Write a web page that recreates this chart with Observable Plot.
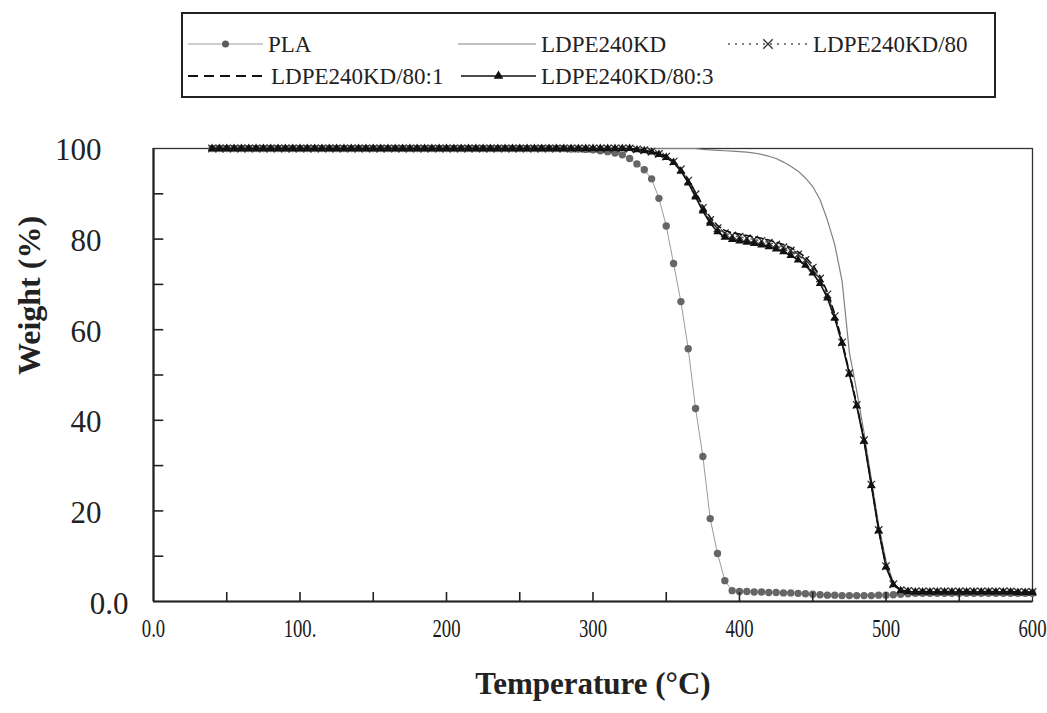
<!DOCTYPE html>
<html><head><meta charset="utf-8">
<script src="https://cdn.jsdelivr.net/npm/d3@7"></script>
<script src="https://cdn.jsdelivr.net/npm/@observablehq/plot@0.6"></script>
<style>
body{margin:0;background:#fff;}
#wrap{position:relative;width:1047px;height:713px;}
#legend{position:absolute;left:181px;top:12px;}
</style></head><body><div id="wrap"></div>
<script>
// Temperature sampling grid (°C)
const temps = [
  40,45,50,55,60,65,70,75,80,85,
  90,95,100,105,110,115,120,125,130,135,
  140,145,150,155,160,165,170,175,180,185,
  190,195,200,205,210,215,220,225,230,235,
  240,245,250,255,260,265,270,275,280,285,
  290,295,300,305,310,315,320,325,330,335,
  340,345,350,355,360,365,370,375,380,385,
  390,395,400,405,410,415,420,425,430,435,
  440,445,450,455,460,465,470,475,480,485,
  490,495,500,505,510,515,520,525,530,535,
  540,545,550,555,560,565,570,575,580,585,
  590,595,600];

const seriesNames = ["PLA","LDPE240KD","LDPE240KD/80","LDPE240KD/80:1","LDPE240KD/80:3"];

const wPLA = [
  100,100,100,100,100,100,100,100,100,100,
  100,100,100,100,100,100,100,100,100,100,
  100,100,100,100,100,100,100,100,100,100,
  100,100,100,100,100,100,100,100,100,100,
  100,100,100,100,100,100,100,100,100,99.9,
  99.9,99.8,99.7,99.5,99.3,99.0,98.6,97.8,96.6,95.3,
  93.3,89.0,82.9,74.6,66.2,55.8,42.6,32.0,18.3,10.6,
  4.6,2.4,2.2,2.2,2.1,2.1,2.0,2.0,1.9,1.9,
  1.8,1.7,1.6,1.5,1.4,1.4,1.3,1.3,1.3,1.3,
  1.3,1.4,1.4,1.5,1.6,1.7,1.8,1.8,1.8,1.8,
  1.8,1.8,1.8,1.8,1.8,1.8,1.8,1.8,1.8,1.8,
  1.8,1.8,1.8];

const wLDPE = [
  100,100,100,100,100,100,100,100,100,100,
  100,100,100,100,100,100,100,100,100,100,
  100,100,100,100,100,100,100,100,100,100,
  100,100,100,100,100,100,100,100,100,100,
  100,100,100,100,100,100,100,100,100,100,
  100,100,100,100,100,100,100,100,100,100,
  100,100,100,100,100,100,100,99.8,99.7,99.6,
  99.5,99.4,99.3,99.2,99.0,98.7,98.3,97.8,97.0,96.1,
  95.0,93.5,91.6,88.7,84.2,78.8,70.8,55.0,46.5,37.3,
  27.0,16.9,9.0,4.2,2.4,2.2,2.1,2.1,2.1,2.1,
  2.1,2.1,2.1,2.1,2.1,2.1,2.1,2.0,2.0,2.0,
  2.0,2.0,2.0];

const wLDPE80 = [
  100,100,100,100,100,100,100,100,100,100,
  100,100,100,100,100,100,100,100,100,100,
  100,100,100,100,100,100,100,100,100,100,
  100,100,100,100,100,100,100,100,100,100,
  100,100,100,100,100,100,100,100,100,100,
  100,100,100,100,100,100,100,100,99.8,99.6,
  99.3,98.8,98.2,97.1,95.4,92.9,89.9,86.9,84.2,82.4,
  81.3,80.8,80.5,80.2,79.9,79.6,79.2,78.8,78.2,77.5,
  76.6,75.4,73.7,71.3,67.8,63.0,57.2,50.4,43.4,35.6,
  25.8,15.8,7.8,3.8,2.5,2.3,2.2,2.2,2.2,2.2,
  2.2,2.2,2.2,2.2,2.2,2.2,2.2,2.2,2.2,2.2,
  2.1,2.1,2.1];

const wLDPE80_1 = [
  100,100,100,100,100,100,100,100,100,100,
  100,100,100,100,100,100,100,100,100,100,
  100,100,100,100,100,100,100,100,100,100,
  100,100,100,100,100,100,100,100,100,100,
  100,100,100,100,100,100,100,100,100,100,
  100,100,100,100,100,100,100,100,99.8,99.6,
  99.3,98.9,98.3,97.3,95.6,93.2,90.3,87.4,84.8,83.0,
  81.9,81.4,81.1,80.8,80.5,80.2,79.8,79.3,78.8,78.1,
  77.2,76.0,74.3,71.8,68.3,63.5,57.5,50.6,43.6,35.8,
  26.0,16.0,8.0,3.9,2.5,2.3,2.2,2.2,2.2,2.2,
  2.2,2.2,2.2,2.2,2.2,2.2,2.2,2.2,2.2,2.2,
  2.1,2.1,2.1];

const wLDPE80_3 = [
  100,100,100,100,100,100,100,100,100,100,
  100,100,100,100,100,100,100,100,100,100,
  100,100,100,100,100,100,100,100,100,100,
  100,100,100,100,100,100,100,100,100,100,
  100,100,100,100,100,100,100,100,100,100,
  100,100,100,100,100,100,100,100,99.7,99.5,
  99.2,98.7,98.0,96.9,95.0,92.4,89.3,86.2,83.5,81.6,
  80.4,79.9,79.6,79.3,79.0,78.7,78.3,77.8,77.2,76.4,
  75.4,74.2,72.5,70.2,67.0,62.5,57.0,50.2,43.2,35.4,
  25.6,15.6,7.6,3.7,2.4,2.2,2.1,2.1,2.1,2.1,
  2.1,2.1,2.1,2.1,2.1,2.1,2.1,2.1,2.1,2.1,
  2.0,2.0,2.0];

const xTickValues = [0,100,200,300,400,500,600];
const xTickLabels = ["0.0","100.","200","300","400","500","600"];
const xTickMarks = [50,100,150,200,250,300,350,400,450,500,550];
const yTickValues = [20,40,60,80,100];
const yTickLabels = ["20","40","60","80","100"];
const yZeroLabel = ["0.0"];
const yTickMarks = [10,20,30,40,50,60,70,80,90];
const xTitle = "Temperature (°C)";
const yTitle = "Weight (%)";

const toRows = (w) => temps.map((t, i) => ({t, w: w[i]}));
const pla = toRows(wPLA), ldpe = toRows(wLDPE), l80 = toRows(wLDPE80),
      l801 = toRows(wLDPE80_1), l803 = toRows(wLDPE80_3);

const serif = "Liberation Serif, Times New Roman, serif";

const chart = Plot.plot({
  width: 1047, height: 713,
  marginTop: 148, marginLeft: 153, marginRight: 15, marginBottom: 112,
  style: {fontFamily: serif, background: "#fff"},
  x: {domain: [0, 600], axis: null},
  y: {domain: [0, 100], axis: null},
  marks: [
    Plot.frame({stroke: "#333", strokeWidth: 1.3}),
    Plot.line(pla, {x: "t", y: "w", stroke: "#9c9c9c", strokeWidth: 1}),
    Plot.dot(pla, {x: "t", y: "w", r: 3.7, fill: "#666"}),
    Plot.line(ldpe, {x: "t", y: "w", stroke: "#808080", strokeWidth: 1.2}),
    Plot.line(l80, {x: "t", y: "w", stroke: "#555", strokeWidth: 1.3, strokeDasharray: "2,3"}),
    Plot.dot(l80, {x: "t", y: "w", symbol: "times", r: 3.5, stroke: "#333", strokeWidth: 1.3}),
    Plot.line(l801, {x: "t", y: "w", stroke: "#111", strokeWidth: 1.6, strokeDasharray: "7,4"}),
    Plot.line(l803, {x: "t", y: "w", stroke: "#111", strokeWidth: 1.6}),
    Plot.dot(l803, {x: "t", y: "w", symbol: "triangle", r: 3.2, fill: "#111"}),
    Plot.ruleX([0], {stroke: "#222", strokeWidth: 2.2}),
    Plot.ruleY([0], {stroke: "#222", strokeWidth: 2.2}),
    Plot.ruleY(yTickMarks, {y: d => d, x1: 0, x2: 7, stroke: "#222", strokeWidth: 1.6}),
    Plot.ruleX(xTickMarks, {x: d => d, y1: 0, y2: 2, stroke: "#222", strokeWidth: 1.6}),
    Plot.text(yTickValues, {y: d => d, text: (d, i) => yTickLabels[i], frameAnchor: "left", dx: -52, dy: 2,
      textAnchor: "end", fontSize: 31, fill: "#222", fontFamily: serif}),
    Plot.text(yZeroLabel, {y: () => 0, text: d => d, frameAnchor: "left", dx: -25, dy: 3,
      textAnchor: "end", fontSize: 31, fill: "#222", fontFamily: serif}),
    Plot.text(xTickValues, {x: d => d, text: (d, i) => xTickLabels[i], frameAnchor: "bottom", dy: 35,
      fontSize: 26, fill: "#1a1a1a", fontFamily: serif}),
    Plot.text([xTitle], {frameAnchor: "bottom", dy: 92, fontSize: 31, fontWeight: "bold", fill: "#222", fontFamily: serif}),
    Plot.text([yTitle], {frameAnchor: "left", dx: -124, rotate: -90, fontSize: 32, fontWeight: "bold", fill: "#222", fontFamily: serif})
  ]
});
document.getElementById("wrap").appendChild(chart);
// condense the x tick labels horizontally (about their centre) as in the original
chart.querySelectorAll("text").forEach(el => {
  const g = el.closest("g");
  if (!xTickLabels.includes(el.textContent)) return;
  if (g && g.getAttribute("text-anchor") === "end") return;
  const b = el.getBBox();
  const cx = b.x + b.width / 2;
  const t = el.getAttribute("transform") || "";
  el.setAttribute("transform", `${t} translate(${cx},0) scale(0.72,1) translate(${-cx},0)`);
});

// Legend
const lg = d3.select("#wrap").append("svg").attr("id", "legend")
  .attr("width", 816).attr("height", 88);
lg.append("rect").attr("x", 1).attr("y", 1).attr("width", 813).attr("height", 84)
  .attr("fill", "#fff").attr("stroke", "#222").attr("stroke-width", 2);
const legendLayout = [
  {x0: 7, x1: 82, row: 0}, {x0: 277, x1: 355, row: 0}, {x0: 547, x1: 627, row: 0},
  {x0: 7, x1: 85, row: 1}, {x0: 280, x1: 355, row: 1}
];
const rowY = [32, 64];
seriesNames.forEach((name, i) => {
  const L = legendLayout[i], y = rowY[L.row], mid = (L.x0 + L.x1) / 2;
  const g = lg.append("g");
  const ln = g.append("line").attr("x1", L.x0).attr("x2", L.x1).attr("y1", y).attr("y2", y);
  if (i === 0) {
    ln.attr("stroke", "#9c9c9c").attr("stroke-width", 1);
    g.append("circle").attr("cx", mid).attr("cy", y).attr("r", 3.5).attr("fill", "#5c5c5c");
  } else if (i === 1) {
    ln.attr("stroke", "#808080").attr("stroke-width", 1.2);
  } else if (i === 2) {
    ln.attr("stroke", "#555").attr("stroke-width", 1.3).attr("stroke-dasharray", "2,5");
    g.append("path").attr("d", d3.symbol(d3.symbolTimes, 60)()).attr("transform", `translate(${mid},${y})`)
      .attr("stroke", "#333").attr("stroke-width", 1.3).attr("fill", "none");
  } else if (i === 3) {
    ln.attr("stroke", "#111").attr("stroke-width", 2).attr("stroke-dasharray", "10,6");
  } else {
    ln.attr("stroke", "#111").attr("stroke-width", 1.6);
    g.append("path").attr("d", d3.symbol(d3.symbolTriangle, 40)()).attr("transform", `translate(${mid},${y})`)
      .attr("fill", "#111");
  }
  g.append("text").attr("x", L.x1 + 5).attr("y", y + 8).text(name)
    .attr("font-family", serif).attr("font-size", 23).attr("fill", "#222");
});
</script></body></html>
